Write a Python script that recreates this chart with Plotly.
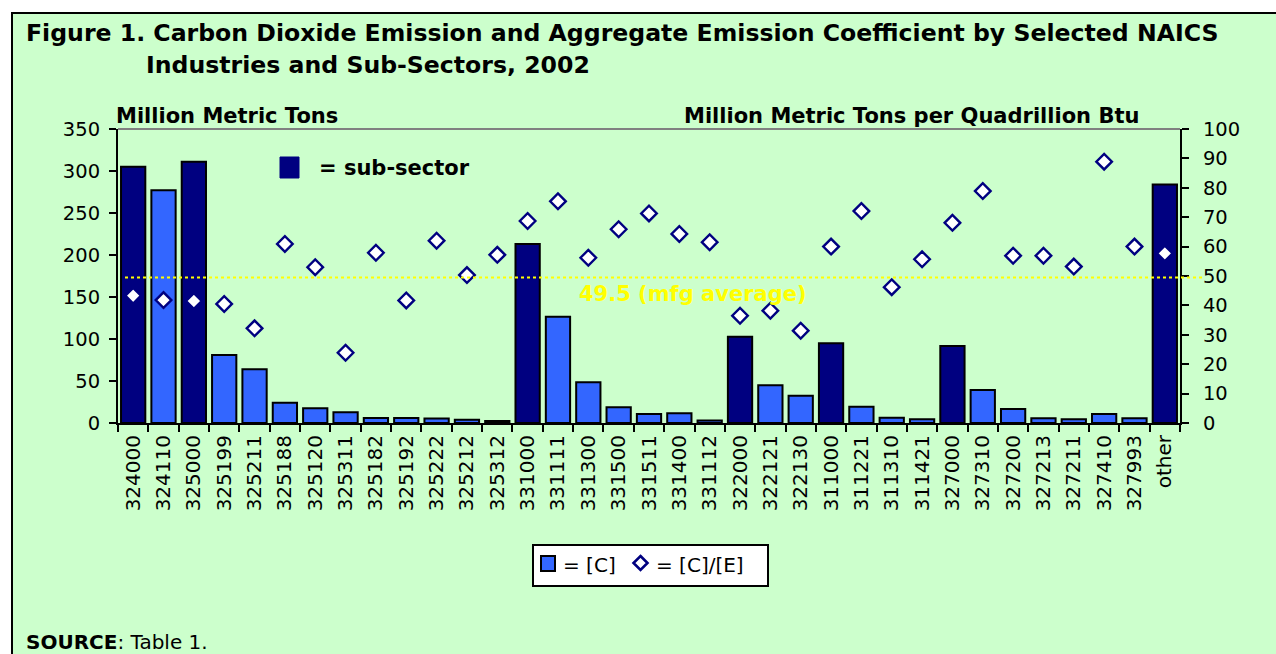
import plotly.graph_objects as go

categories = ["324000", "324110", "325000", "325199", "325211", "325188", "325120", "325311",
              "325182", "325192", "325222", "325212", "325312", "331000", "331111", "331300",
              "331500", "331511", "331400", "331112", "322000", "322121", "322130", "311000",
              "311221", "311310", "311421", "327000", "327310", "327200", "327213", "327211",
              "327410", "327993", "other"]
emissions = [305, 277, 311, 81, 64, 24, 17.5, 12.7, 6, 6, 5.5, 4, 2.5, 213, 126.6, 48.4,
             18.7, 10.7, 11.5, 3, 102.8, 45, 32.5, 94.8, 19.4, 6.3, 4.4, 91.7, 39.3, 16.7,
             5.6, 4.4, 10.7, 5.6, 284]
coefficients = [43.3, 41.8, 41.5, 40.5, 32.2, 60.9, 53, 23.9, 57.9, 41.7, 62, 50.3, 57.2,
                68.7, 75.4, 56.2, 65.9, 71.3, 64.3, 61.5, 36.5, 38.2, 31.4, 60, 72.1, 46.2,
                55.7, 68.1, 78.9, 56.9, 56.9, 53.2, 88.9, 60, 57.7]
sub_sectors = ["324000", "325000", "331000", "322000", "311000", "327000", "other"]
mfg_average = 49.5
left_ticks = list(range(0, 351, 50))
right_ticks = list(range(0, 101, 10))

NAVY = "#000080"
BLUE = "#3366FF"
GREEN = "#CCFFCC"
FONT = "DejaVu Sans"

W, H = 1276, 654
L, R, T, B = 118, 1180, 129, 423


def px(x):
    return (x - L) / (R - L)


def py(y):
    return (B - y) / (B - T)


bar_colors = [NAVY if c in sub_sectors else BLUE for c in categories]

fig = go.Figure()
fig.add_trace(go.Bar(
    x=categories, y=emissions, marker=dict(color=bar_colors, line=dict(color="black", width=2)),
    showlegend=False, yaxis="y"))
fig.add_trace(go.Scatter(
    x=categories, y=coefficients, mode="markers", yaxis="y2", showlegend=False,
    marker=dict(symbol="diamond", size=12, color="white", line=dict(color=NAVY, width=2.4))))

shapes = []
# outer frame
shapes.append(dict(type="rect", xref="paper", yref="paper", x0=px(12), x1=px(1290),
                   y0=py(670), y1=py(13), fillcolor=GREEN, line=dict(color="black", width=2),
                   layer="below"))
# top border of plot area
shapes.append(dict(type="line", xref="paper", yref="paper", x0=0, x1=1, y0=1, y1=1,
                   line=dict(color="#808080", width=2)))
# average line
shapes.append(dict(type="line", xref="paper", yref="y2", x0=px(125), x1=px(1205),
                   y0=mfg_average, y1=mfg_average, line=dict(color="#FFFF00", width=2, dash="dot")))
# sub-sector key square
shapes.append(dict(type="rect", xref="paper", yref="paper", x0=px(280), x1=px(299),
                   y0=py(178), y1=py(157), fillcolor=NAVY, line=dict(color=NAVY, width=1)))
# bottom legend box
shapes.append(dict(type="rect", xref="paper", yref="paper", x0=px(533), x1=px(768),
                   y0=py(586), y1=py(545), fillcolor="white", line=dict(color="black", width=2)))
shapes.append(dict(type="rect", xref="paper", yref="paper", x0=px(541), x1=px(555),
                   y0=py(571), y1=py(556), fillcolor=BLUE, line=dict(color="black", width=2)))
# legend diamond
cx, cy, r = 640.5, 563, 7
shapes.append(dict(type="path", xref="paper", yref="paper",
                   path="M {},{} L {},{} L {},{} L {},{} Z".format(
                       px(cx), py(cy - r), px(cx + r), py(cy), px(cx), py(cy + r), px(cx - r), py(cy)),
                   fillcolor="white", line=dict(color=NAVY, width=2.6)))

annotations = [
    dict(text="<b>Figure 1. Carbon Dioxide Emission and Aggregate Emission Coefficient by Selected NAICS</b>",
         x=px(24), y=py(33), xanchor="left", yanchor="middle", font=dict(size=23.6)),
    dict(text="<b>Industries and Sub-Sectors, 2002</b>",
         x=px(144), y=py(65), xanchor="left", yanchor="middle", font=dict(size=23.6)),
    dict(text="<b>Million Metric Tons</b>", x=px(114), y=py(116), xanchor="left",
         yanchor="middle", font=dict(size=21)),
    dict(text="<b>Million Metric Tons per Quadrillion Btu</b>", x=px(1141), y=py(116),
         xanchor="right", yanchor="middle", font=dict(size=21)),
    dict(text="<b>= sub-sector</b>", x=px(317), y=py(168), xanchor="left", yanchor="middle",
         font=dict(size=21)),
    dict(text="<b>%.1f (mfg average)</b>" % mfg_average, x=px(693), y=py(294),
         xanchor="center", yanchor="middle", font=dict(size=21, color="#FFFF00")),
    dict(text="= [C]", x=px(561), y=py(565), xanchor="left", yanchor="middle",
         font=dict(size=20)),
    dict(text="= [C]/[E]", x=px(654), y=py(565), xanchor="left", yanchor="middle",
         font=dict(size=20)),
    dict(text="<b>SOURCE</b>: Table 1.", x=px(24), y=py(642), xanchor="left",
         yanchor="middle", font=dict(size=20)),
]
for a in annotations:
    a.update(xref="paper", yref="paper", showarrow=False)
    a["font"].setdefault("color", "black")
    a["font"]["family"] = FONT

fig.update_layout(
    width=W, height=H,
    margin=dict(l=L, r=W - R, t=T, b=H - B, pad=0),
    paper_bgcolor="white", plot_bgcolor="#C0C0C0",
    font=dict(family=FONT, size=18, color="black"),
    bargap=0.2,
    shapes=shapes, annotations=annotations,
    xaxis=dict(type="category", tickangle=-90, tickson="boundaries", ticks="outside",
               ticklen=7, tickwidth=2, tickcolor="black", showline=True, linecolor="black",
               linewidth=2, showgrid=False, tickfont=dict(size=20), ticklabelstandoff=2,
               range=[-0.5, len(categories) - 0.5]),
    yaxis=dict(range=[0, 350], tickvals=left_ticks, ticks="outside", ticklen=7, tickwidth=2,
               tickcolor="black", showline=True, linecolor="black", linewidth=2,
               showgrid=False, zeroline=False, tickfont=dict(size=19.5), ticklabelstandoff=5),
    yaxis2=dict(range=[0, 100], tickvals=right_ticks, overlaying="y", side="right",
                ticks="outside", ticklen=7, tickwidth=2, tickcolor="black", showline=True,
                linecolor="black", linewidth=2, showgrid=False, zeroline=False,
                tickfont=dict(size=19.5), ticklabelstandoff=10),
)

fig.write_html("out.html", config={"displayModeBar": False})

# remove the default page margin so the figure sits at the window's top-left corner
with open("out.html", "r", encoding="utf-8") as f:
    html = f.read()
html = html.replace("<head>", "<head><style>html,body{margin:0;padding:0;overflow:hidden;}</style>", 1)
with open("out.html", "w", encoding="utf-8") as f:
    f.write(html)
